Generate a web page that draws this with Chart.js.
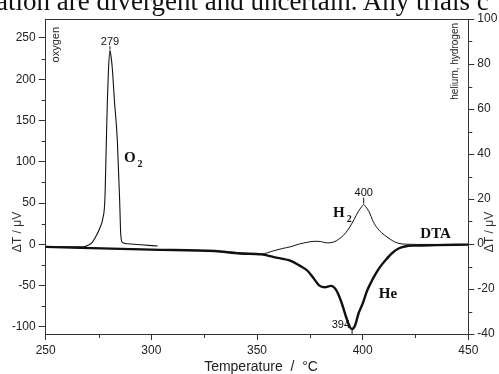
<!DOCTYPE html>
<html>
<head>
<meta charset="utf-8">
<script src="https://cdn.jsdelivr.net/npm/chart.js@4.4.1/dist/chart.umd.min.js"></script>
<style>
    html, body { margin: 0; padding: 0; background: #fff; overflow: hidden; }
    #wrap { position: relative; width: 499px; height: 374px; overflow: hidden; }
    #c { position: absolute; left: 0; top: 0; }
    #cut {
        position: absolute; left: -4px; top: -12px; z-index: 2;
        font: 27px "Liberation Serif", "Times New Roman", serif; line-height: 27px;
        white-space: nowrap; color: #111;
    }
</style>
</head>
<body>
<div id="wrap">
    <canvas id="c" width="499" height="374"></canvas>
    <div id="cut">ation are divergent and uncertain. Any trials c</div>
</div>
<script>
// 축 눈금
const xTicks = [250, 300, 350, 400, 450];
const xMinor = [275, 325, 375, 425];
const leftTicks = [-100, -50, 0, 50, 100, 150, 200, 250];
const leftMinor = [-75, -25, 25, 75, 125, 175, 225];
const rightTicks = [-40, -20, 0, 20, 40, 60, 80, 100];
const rightMinor = [-30, -10, 10, 30, 50, 70, 90];

// oxygen (왼쪽 축)
const oxyT = [250, 262, 268, 270, 272, 274, 275.5, 277, 278, 278.6, 279.2, 279.7, 280.4, 281, 281.5, 282.5, 283.9, 285, 285.5, 286.2, 288.6, 295, 303];
const oxyV = [-3, -3, -2.8, -1, 2.5, 11, 19, 31, 54, 114, 175, 211, 235, 226, 214, 175, 126, 53, 13, 2.8, 0.8, -0.4, -2];

// hydrogen (오른쪽 축)
const hydT = [250, 300, 330, 342, 352, 358, 362, 366, 370, 374, 377, 380, 383, 386, 389.5, 392, 394, 396, 398, 399.5, 400.5, 401.5, 403, 405, 407, 409, 412, 416, 421, 430, 450];
const hydV = [-1.3, -2.5, -3.1, -3.9, -4.4, -3, -2, -1.2, 0, 0.8, 1.2, 1.1, 0.5, 0.8, 2.7, 5, 7.7, 11, 14.5, 16.5, 17.5, 16.5, 14.4, 10, 7, 5, 2.8, 0.6, -0.1, -0.2, -0.2];

// helium (오른쪽 축, 굵은 선)
const helT = [250, 300, 330, 342, 352, 358, 366, 370, 374, 377, 379.5, 382, 385, 387.5, 390, 392, 394, 395, 396.5, 398, 400, 402, 404, 406, 408, 411, 414, 417, 420, 425, 435, 450];
const helV = [-1.3, -2.5, -3.1, -4.2, -4.6, -5.8, -7.5, -9.5, -12, -15.5, -18.5, -19.2, -18.6, -20.5, -26, -32, -37, -37.8, -36, -31, -26.5, -21, -17, -13.5, -10.5, -7, -4, -2, -1.1, -0.7, -0.5, -0.3];

const pts = (xs, ys) => xs.map((x, i) => ({ x: x, y: ys[i] }));

const AXIS = '#333';
const INK = '#111';
const SANS = '"Liberation Sans", Arial, sans-serif';
const SERIF = '"Liberation Serif", "Times New Roman", serif';

function fixTicks(list) {
    return function (scale) {
        scale.ticks = list.map(v => ({ value: v }));
    };
}

const annotations = {
    id: 'annotations',
    afterDraw(chart) {
        const ctx = chart.ctx;
        const a = chart.chartArea;
        const x = chart.scales.x, yL = chart.scales.yL, yR = chart.scales.yR;

        ctx.save();
        ctx.strokeStyle = AXIS;
        ctx.lineWidth = 1;
        const line = (x1, y1, x2, y2) => {
            ctx.beginPath(); ctx.moveTo(x1, y1); ctx.lineTo(x2, y2); ctx.stroke();
        };

        // 윗쪽 테두리
        line(a.left, a.top + 0.5, a.right, a.top + 0.5);

        // 보조 눈금
        xMinor.forEach(v => {
            const p = Math.round(x.getPixelForValue(v)) + 0.5;
            line(p, a.bottom, p, a.bottom + 4);
        });
        leftMinor.forEach(v => {
            const p = Math.round(yL.getPixelForValue(v)) + 0.5;
            line(a.left - 4, p, a.left, p);
        });
        rightMinor.forEach(v => {
            const p = Math.round(yR.getPixelForValue(v)) + 0.5;
            line(a.right, p, a.right + 4, p);
        });

        // 피크 표시
        ctx.fillStyle = INK;
        ctx.strokeStyle = INK;
        ctx.font = '11px ' + SANS;
        ctx.textAlign = 'center';
        ctx.textBaseline = 'alphabetic';

        let i = oxyV.indexOf(Math.max(...oxyV));
        let px = x.getPixelForValue(oxyT[i]), py = yL.getPixelForValue(oxyV[i]);
        line(px, py - 1, px, py - 4);
        ctx.fillText('279', px, py - 5);

        i = hydV.indexOf(Math.max(...hydV));
        px = x.getPixelForValue(hydT[i]); py = yR.getPixelForValue(hydV[i]);
        line(px, py - 1, px, py - 7);
        ctx.fillText('400', px, py - 9);

        i = helV.indexOf(Math.min(...helV));
        px = x.getPixelForValue(helT[i]); py = yR.getPixelForValue(helV[i]);
        line(px, py + 1, px, a.bottom);
        ctx.textAlign = 'right';
        ctx.fillText('394', px - 2, py - 1);

        // 기체 이름
        const gas = (main, sub, t, v, scale) => {
            const gx = x.getPixelForValue(t), gy = scale.getPixelForValue(v);
            ctx.textAlign = 'left';
            ctx.font = 'bold 15px ' + SERIF;
            ctx.fillText(main, gx, gy);
            if (sub) {
                const w = ctx.measureText(main).width;
                ctx.font = 'bold 10px ' + SERIF;
                ctx.fillText(sub, gx + w + 2, gy + 5);
            }
        };
        gas('O', '2', 287, 100, yL);
        gas('H', '2', 386, 11.8, yR);
        gas('DTA', '', 427.3, 2.5, yR);
        gas('He', '', 407.6, -24, yR);

        // 세로 글자
        const vtext = (txt, cx, cy, align, font, color) => {
            ctx.save();
            ctx.translate(cx, cy);
            ctx.rotate(-Math.PI / 2);
            ctx.font = font;
            ctx.fillStyle = color;
            ctx.textAlign = align;
            ctx.textBaseline = 'middle';
            ctx.fillText(txt, 0, 0);
            ctx.restore();
        };
        vtext('oxygen', a.left + 10, a.top + 8, 'right', '11px ' + SANS, '#222');
        vtext('helium, hydrogen', a.right - 13, a.top + 4, 'right', '10px ' + SANS, '#222');
        vtext('\u0394T / \u03bcV', 18, 232, 'center', '12px ' + SANS, '#333');
        vtext('\u0394T / \u03bcV', 490, 232, 'center', '12px ' + SANS, '#333');

        // x축 제목
        ctx.font = '14px ' + SANS;
        ctx.fillStyle = '#222';
        ctx.textAlign = 'center';
        ctx.textBaseline = 'alphabetic';
        ctx.fillText('Temperature  /  \u00b0C', (a.left + a.right) / 2 + 4, 371);

        ctx.restore();
    }
};

const tickFont = { family: SANS, size: 12 };

new Chart(document.getElementById('c'), {
    type: 'line',
    data: {
        datasets: [
            {
                label: 'He',
                data: pts(helT, helV),
                yAxisID: 'yR',
                borderColor: INK,
                borderWidth: 2.4,
                pointRadius: 0,
                cubicInterpolationMode: 'monotone'
            },
            {
                label: 'H2',
                data: pts(hydT, hydV),
                yAxisID: 'yR',
                borderColor: INK,
                borderWidth: 1,
                pointRadius: 0,
                cubicInterpolationMode: 'monotone'
            },
            {
                label: 'O2',
                data: pts(oxyT, oxyV),
                yAxisID: 'yL',
                borderColor: INK,
                borderWidth: 1.1,
                pointRadius: 0,
                cubicInterpolationMode: 'monotone'
            }
        ]
    },
    options: {
        responsive: false,
        animation: false,
        layout: { padding: { top: 19, left: 0, right: 0, bottom: 0 } },
        plugins: {
            legend: { display: false },
            tooltip: { enabled: false }
        },
        scales: {
            x: {
                type: 'linear',
                min: 250,
                max: 450,
                afterBuildTicks: fixTicks(xTicks),
                afterFit: s => { s.height = 40; },
                grid: { drawOnChartArea: false, tickLength: 6, color: AXIS },
                border: { color: AXIS, width: 1 },
                ticks: { font: tickFont, color: '#222', padding: 3, maxRotation: 0, autoSkip: false }
            },
            yL: {
                type: 'linear',
                position: 'left',
                min: -108.5,
                max: 273,
                afterBuildTicks: fixTicks(leftTicks),
                afterFit: s => { s.width = 45.7; },
                grid: { drawOnChartArea: false, tickLength: 7, color: AXIS },
                border: { color: AXIS, width: 1 },
                ticks: { font: tickFont, color: '#222', padding: 3, autoSkip: false }
            },
            yR: {
                type: 'linear',
                position: 'right',
                min: -40,
                max: 100,
                afterBuildTicks: fixTicks(rightTicks),
                afterFit: s => { s.width = 30.7; },
                grid: { drawOnChartArea: false, tickLength: 6, color: AXIS },
                border: { color: AXIS, width: 1 },
                ticks: { font: tickFont, color: '#222', padding: 3, autoSkip: false }
            }
        }
    },
    plugins: [annotations]
});
</script>
</body>
</html>
